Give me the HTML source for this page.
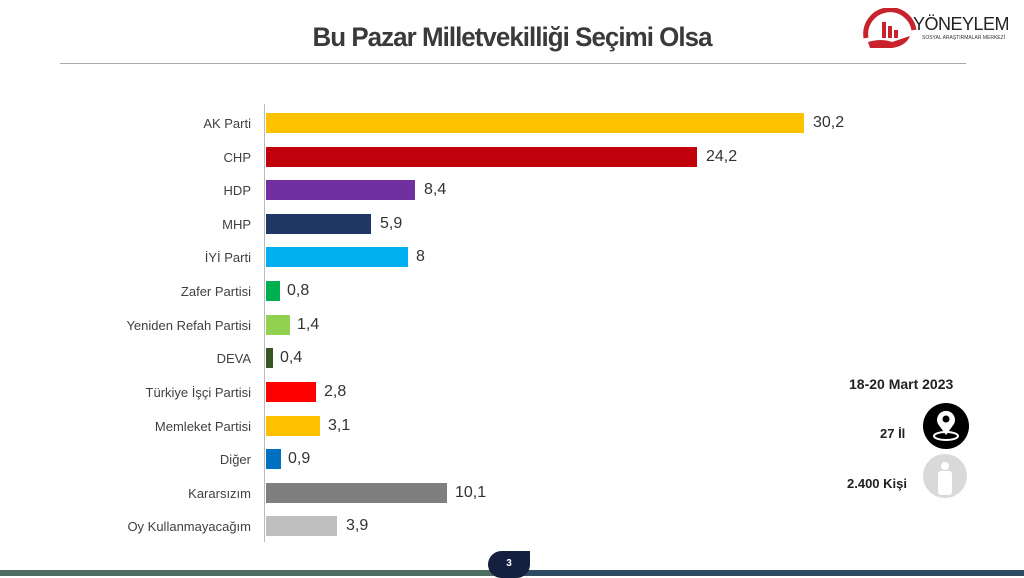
<!DOCTYPE html>
<html><head><meta charset="utf-8"><style>
body{margin:0;width:1024px;height:578px;background:#fff;position:relative;overflow:hidden;font-family:"Liberation Sans",sans-serif}
.t{position:absolute;left:0;width:1024px;top:22px;text-align:center;font-size:27px;font-weight:bold;color:#3a3a3a;letter-spacing:-1px;transform:scaleX(.96)}
.lab{position:absolute;right:773px;font-size:13px;color:#404040;text-align:right;white-space:nowrap}
.bar{position:absolute;left:266px;height:20px}
.v{position:absolute;font-size:16px;color:#333}
</style></head><body>
<div class="t">Bu Pazar Milletvekilliği Seçimi Olsa</div>
<div style="position:absolute;left:60px;top:63px;width:906px;height:1px;background:#aaa"></div>
<svg style="position:absolute;left:862px;top:8px" width="60" height="42" viewBox="0 0 60 42"><path d="M4 30 A24 24 0 0 1 52 22" stroke="#c8232c" stroke-width="5" fill="none"/><rect x="20" y="14" width="4" height="16" fill="#c8232c"/><rect x="26" y="18" width="4" height="12" fill="#c8232c"/><rect x="32" y="22" width="4" height="8" fill="#c8232c"/><path d="M6 34 Q20 30 30 34 L48 28 Q44 38 30 40 L8 40Z" fill="#c8232c"/></svg>
<div style="position:absolute;left:913px;top:14px;font-size:18px;color:#222;letter-spacing:-0.5px">YÖNEYLEM</div>
<div style="position:absolute;left:922px;top:35px;font-size:5px;color:#333">SOSYAL ARAŞTIRMALAR MERKEZİ</div>
<div style="position:absolute;left:264px;top:104px;width:1px;height:438px;background:#bbb"></div>
<div class="lab" style="top:116px">AK Parti</div><div class="bar" style="top:113px;width:538px;background:#fdc300"></div><div class="v" style="left:813px;top:114px">30,2</div>
<div class="lab" style="top:150px">CHP</div><div class="bar" style="top:147px;width:431px;background:#c0000b"></div><div class="v" style="left:706px;top:148px">24,2</div>
<div class="lab" style="top:183px">HDP</div><div class="bar" style="top:180px;width:149px;background:#7030a0"></div><div class="v" style="left:424px;top:181px">8,4</div>
<div class="lab" style="top:217px">MHP</div><div class="bar" style="top:214px;width:105px;background:#1f3864"></div><div class="v" style="left:380px;top:215px">5,9</div>
<div class="lab" style="top:250px">İYİ Parti</div><div class="bar" style="top:247px;width:142px;background:#00b0f0"></div><div class="v" style="left:416px;top:248px">8</div>
<div class="lab" style="top:284px">Zafer Partisi</div><div class="bar" style="top:281px;width:14px;background:#00b050"></div><div class="v" style="left:287px;top:282px">0,8</div>
<div class="lab" style="top:318px">Yeniden Refah Partisi</div><div class="bar" style="top:315px;width:24px;background:#92d050"></div><div class="v" style="left:297px;top:316px">1,4</div>
<div class="lab" style="top:351px">DEVA</div><div class="bar" style="top:348px;width:7px;background:#375623"></div><div class="v" style="left:280px;top:349px">0,4</div>
<div class="lab" style="top:385px">Türkiye İşçi Partisi</div><div class="bar" style="top:382px;width:50px;background:#ff0000"></div><div class="v" style="left:324px;top:383px">2,8</div>
<div class="lab" style="top:419px">Memleket Partisi</div><div class="bar" style="top:416px;width:54px;background:#ffc000"></div><div class="v" style="left:328px;top:417px">3,1</div>
<div class="lab" style="top:452px">Diğer</div><div class="bar" style="top:449px;width:15px;background:#0070c0"></div><div class="v" style="left:288px;top:450px">0,9</div>
<div class="lab" style="top:486px">Kararsızım</div><div class="bar" style="top:483px;width:181px;background:#7f7f7f"></div><div class="v" style="left:455px;top:484px">10,1</div>
<div class="lab" style="top:519px">Oy Kullanmayacağım</div><div class="bar" style="top:516px;width:71px;background:#bfbfbf"></div><div class="v" style="left:346px;top:517px">3,9</div>
<div style="position:absolute;left:849px;top:376px;font-size:14px;font-weight:bold;color:#222">18-20 Mart 2023</div>
<div style="position:absolute;left:880px;top:426px;font-size:13px;font-weight:bold;color:#222">27 İl</div>
<div style="position:absolute;left:847px;top:476px;font-size:13px;font-weight:bold;color:#222">2.400 Kişi</div>
<div style="position:absolute;left:923px;top:403px;width:46px;height:46px;border-radius:50%;background:#000"></div>
<svg style="position:absolute;left:923px;top:403px" width="46" height="46"><path d="M23 32 L15 21 A9 9 0 1 1 31 21Z" fill="#fff"/><circle cx="23" cy="16" r="3.5" fill="#000"/><ellipse cx="23" cy="33" rx="12" ry="4" fill="none" stroke="#fff" stroke-width="2"/></svg>
<div style="position:absolute;left:923px;top:454px;width:44px;height:44px;border-radius:50%;background:#d9d9d9"></div>
<div style="position:absolute;left:941px;top:462px;width:8px;height:8px;border-radius:50%;background:#fff"></div>
<div style="position:absolute;left:938px;top:471px;width:14px;height:24px;border-radius:3px;background:#fff"></div>
<div style="position:absolute;left:0;top:570px;width:500px;height:6px;background:#4f6e62"></div>
<div style="position:absolute;left:500px;top:570px;width:524px;height:6px;background:#2d4a62"></div>
<div style="position:absolute;left:488px;top:551px;width:42px;height:27px;background:#15203f;border-radius:16px 0 16px 16px"></div>
<div style="position:absolute;left:488px;top:558px;width:42px;text-align:center;color:#fff;font-size:10px;font-weight:bold">3</div>
</body></html>
